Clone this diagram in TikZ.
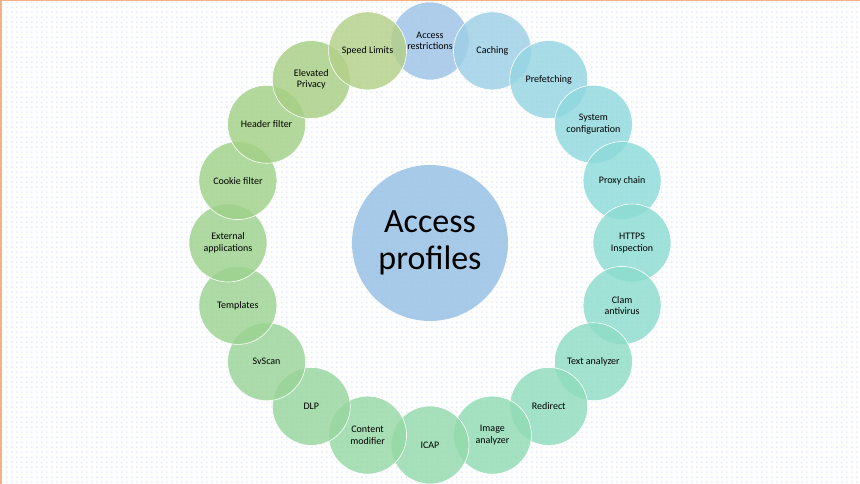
\documentclass[tikz,border=0pt]{standalone}
\usepackage{fontspec}
\setmainfont{Carlito}
\usepackage{xcolor}
\usetikzlibrary{
	positioning,
	patterns.meta,
	backgrounds
}
% 颜色 (ring colours, blue -> teal -> green)
\definecolor{cAR}{HTML}{9DC3E6}
\definecolor{cCA}{HTML}{9DCFE6}
\definecolor{cPF}{HTML}{95D5E2}
\definecolor{cSC}{HTML}{8FD8DE}
\definecolor{cPC}{HTML}{8DDBD9}
\definecolor{cHI}{HTML}{8CDCD3}
\definecolor{cCL}{HTML}{8CDCCC}
\definecolor{cTA}{HTML}{8EDCC4}
\definecolor{cRD}{HTML}{8FDCBC}
\definecolor{cIA}{HTML}{91DBB4}
\definecolor{cIC}{HTML}{93DAAC}
\definecolor{cCM}{HTML}{95D8A5}
\definecolor{cDL}{HTML}{97D69E}
\definecolor{cSV}{HTML}{99D498}
\definecolor{cTP}{HTML}{9BD392}
\definecolor{cEA}{HTML}{9DD28D}
\definecolor{cCF}{HTML}{9FD189}
\definecolor{cHF}{HTML}{A3D086}
\definecolor{cEP}{HTML}{A8CF84}
\definecolor{cSL}{HTML}{B3D088}
\definecolor{dotcol}{RGB}{160,185,235}
\definecolor{edgecol}{HTML}{F4B183}

\tikzdeclarepattern{
	name=bgdots,
	type=uncolored,
	bounding box={(0,0) and (4.6pt,4.6pt)},
	tile size={(4.6pt,4.6pt)},
	code={\fill (1.6pt,1.6pt) rectangle (2.6pt,2.6pt);}
}

\begin{document}
\begin{tikzpicture}[
        x=1pt, y=1pt,
        % 环上小圆 (ring item style)
        item/.style={
            circle, draw=white, line width=0.6pt,
            minimum size=78pt, inner sep=0pt,
            fill opacity=0.82, text opacity=1,
            align=center,
            font=\fontsize{10}{11.5}\selectfont
        },
        % 中心大圆 (centre style)
        hub/.style={
            circle, fill=cAR, fill opacity=0.88, text opacity=1,
            minimum size=156pt, inner sep=0pt,
            align=center,
            font=\fontsize{34}{37}\selectfont
        }
    ]

        % 画布 (canvas with dots)
        \useasboundingbox (0,0) rectangle (860,484);
        \fill[white] (0,0) rectangle (860,484);
        \fill[pattern=bgdots, pattern color=dotcol!70!white] (0,0) rectangle (860,484);
        \draw[edgecol, line width=3pt] (0,0) -- (0,484) -- (860,484);

        \coordinate (ring) at (430,241);

        % ====================
        % 中心 (Centre)
        % ====================
        \node[hub] (N0) at (ring) {Access\\profiles};

        % ====================
        % 环 (Ring, clockwise from top)
        % ====================
        \node[item, fill=cAR] (N1)  at ([shift={(90:202)}]ring)   {Access\\restrictions};
        \node[item, fill=cCA] (N2)  at ([shift={(72:202)}]ring)   {Caching};
        \node[item, fill=cPF] (N3)  at ([shift={(54:202)}]ring)   {Prefetching};
        \node[item, fill=cSC] (N4)  at ([shift={(36:202)}]ring)   {System\\configuration};
        \node[item, fill=cPC] (N5)  at ([shift={(18:202)}]ring)   {Proxy chain};
        \node[item, fill=cHI] (N6)  at ([shift={(0:202)}]ring)    {HTTPS\\Inspection};
        \node[item, fill=cCL] (N7)  at ([shift={(-18:202)}]ring)  {Clam\\antivirus};
        \node[item, fill=cTA] (N8)  at ([shift={(-36:202)}]ring)  {Text analyzer};
        \node[item, fill=cRD] (N9)  at ([shift={(-54:202)}]ring)  {Redirect};
        \node[item, fill=cIA] (N10) at ([shift={(-72:202)}]ring)  {Image\\analyzer};
        \node[item, fill=cIC] (N11) at ([shift={(-90:202)}]ring)  {ICAP};
        \node[item, fill=cCM] (N12) at ([shift={(-108:202)}]ring) {Content\\modifier};
        \node[item, fill=cDL] (N13) at ([shift={(-126:202)}]ring) {DLP};
        \node[item, fill=cSV] (N14) at ([shift={(-144:202)}]ring) {SvScan};
        \node[item, fill=cTP] (N15) at ([shift={(-162:202)}]ring) {Templates};
        \node[item, fill=cEA] (N16) at ([shift={(180:202)}]ring)  {External\\applications};
        \node[item, fill=cCF] (N17) at ([shift={(162:202)}]ring)  {Cookie filter};
        \node[item, fill=cHF] (N18) at ([shift={(144:202)}]ring)  {Header filter};
        \node[item, fill=cEP] (N19) at ([shift={(126:202)}]ring)  {Elevated\\Privacy};
        \node[item, fill=cSL] (N20) at ([shift={(108:202)}]ring)  {Speed Limits};

    \end{tikzpicture}
\end{document}
